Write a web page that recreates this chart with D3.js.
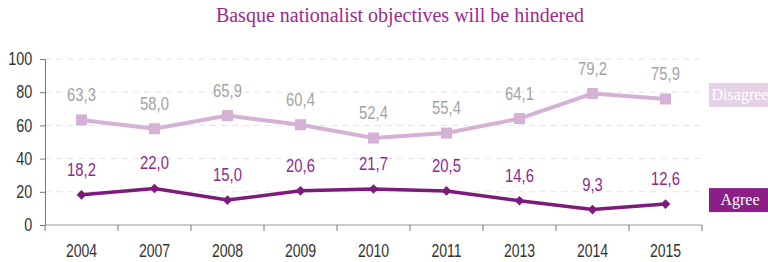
<!DOCTYPE html>
<html>
<head>
<meta charset="utf-8">
<script src="https://cdn.jsdelivr.net/npm/d3@7"></script>
<style>
  body { margin: 0; background: #fff; }
  svg { display: block; }
</style>
</head>
<body>
<div id="chart"></div>
<script>
// data
var years = ["2004", "2007", "2008", "2009", "2010", "2011", "2013", "2014", "2015"];
var disagree = [63.3, 58.0, 65.9, 60.4, 52.4, 55.4, 64.1, 79.2, 75.9];
var agree = [18.2, 22.0, 15.0, 20.6, 21.7, 20.5, 14.6, 9.3, 12.6];
var yTicks = [0, 20, 40, 60, 80, 100];

var width = 768, height = 262;
var margin = {top: 59, right: 66, bottom: 37, left: 45};

var svg = d3.select("#chart")
  .append("svg")
    .attr("width", width)
    .attr("height", height);

var x = d3.scaleBand()
  .domain(years)
  .range([margin.left, width - margin.right]);

var y = d3.scaleLinear()
  .domain([0, 100])
  .range([height - margin.bottom, margin.top]);

// the original uses a condensed face, squeeze a normal one horizontally
var numFont = "'Liberation Sans', Arial, sans-serif";
var serifFont = "'Liberation Serif', 'DejaVu Serif', serif";
var squeeze = 0.78;

function narrowText(sel, px, py, size, fill) {
  sel.attr("transform", function(d, i) {
      return "translate(" + px(d, i) + "," + py(d, i) + ") scale(" + squeeze + ",1)";
    })
    .attr("text-anchor", "middle")
    .attr("fill", fill)
    .style("font-family", numFont)
    .style("font-size", size + "px");
}

// title
svg.append("text")
  .attr("x", 400)
  .attr("y", 22)
  .attr("text-anchor", "middle")
  .attr("fill", "#9b2a8f")
  .style("font-family", serifFont)
  .style("font-size", "20px")
  .text("Basque nationalist objectives will be hindered");

// gridlines
svg.append("g")
  .selectAll("line")
  .data(yTicks.slice(1))
  .enter()
  .append("line")
    .attr("x1", margin.left)
    .attr("x2", width - margin.right)
    .attr("y1", d => y(d))
    .attr("y2", d => y(d))
    .attr("stroke", "#e4e4e4")
    .attr("stroke-dasharray", "6,5");

// y axis
var yAxis = svg.append("g")
  .attr("transform", "translate(" + margin.left + ",0)")
  .call(d3.axisLeft(y).tickValues(yTicks).tickSize(5).tickPadding(11));
yAxis.select(".domain").attr("stroke", "#777");
yAxis.selectAll(".tick line").attr("stroke", "#777");
yAxis.selectAll("text")
  .attr("transform", "scale(0.8,1)")
  .attr("fill", "#333")
  .style("font-family", numFont)
  .style("font-size", "18px");

// x axis, ticks on band edges
var xAxisG = svg.append("g")
  .attr("transform", "translate(0," + y(0) + ")");
xAxisG.append("line")
  .attr("x1", margin.left)
  .attr("x2", width - margin.right)
  .attr("stroke", "#999");
xAxisG.selectAll(".edge")
  .data(years.concat(["end"]))
  .enter()
  .append("line")
    .attr("x1", (d, i) => i < years.length ? x(d) : x(years[years.length - 1]) + x.bandwidth())
    .attr("x2", (d, i) => i < years.length ? x(d) : x(years[years.length - 1]) + x.bandwidth())
    .attr("y1", 0)
    .attr("y2", 6)
    .attr("stroke", "#777");
xAxisG.selectAll(".yr")
  .data(years)
  .enter()
  .append("text")
    .call(narrowText, d => x(d) + x.bandwidth() / 2, d => 32, 18, "#333")
    .text(d => d);

var cx = d => x(d) + x.bandwidth() / 2;
var line = d3.line()
  .x((d, i) => cx(years[i]))
  .y(d => y(d));
var fmt = d => d.toFixed(1).replace(".", ",");

// disagree series
svg.append("path")
  .datum(disagree)
  .attr("d", line)
  .attr("fill", "none")
  .attr("stroke", "#d6b1d6")
  .attr("stroke-width", 4);

svg.selectAll(".sq")
  .data(disagree)
  .enter()
  .append("rect")
    .attr("x", (d, i) => cx(years[i]) - 5.5)
    .attr("y", d => y(d) - 5.5)
    .attr("width", 11)
    .attr("height", 11)
    .attr("fill", "#d6b1d6");

svg.selectAll(".dlab")
  .data(disagree)
  .enter()
  .append("text")
    .call(narrowText, (d, i) => cx(years[i]), d => y(d) - 19, 19, "#a3a3a3")
    .text(fmt);

// agree series
svg.append("path")
  .datum(agree)
  .attr("d", line)
  .attr("fill", "none")
  .attr("stroke", "#7d1a7c")
  .attr("stroke-width", 3.5);

svg.selectAll(".dia")
  .data(agree)
  .enter()
  .append("path")
    .attr("d", d3.symbol().type(d3.symbolDiamond2).size(60))
    .attr("transform", (d, i) => "translate(" + cx(years[i]) + "," + y(d) + ")")
    .attr("fill", "#7d1a7c");

svg.selectAll(".alab")
  .data(agree)
  .enter()
  .append("text")
    .call(narrowText, (d, i) => cx(years[i]), d => y(d) - 19, 19, "#8e2a8c")
    .text(fmt);

// legend boxes on the right
var legend = [
  {name: "Disagree", v: disagree[disagree.length - 1], fill: "#e6d2e6"},
  {name: "Agree", v: agree[agree.length - 1], fill: "#8c1f87"}
];
var lg = svg.selectAll(".lg")
  .data(legend)
  .enter()
  .append("g")
    .attr("transform", d => "translate(709," + (y(d.v) - 16) + ")");
lg.append("rect")
  .attr("width", 64)
  .attr("height", 24)
  .attr("fill", d => d.fill);
lg.append("text")
  .attr("x", 31)
  .attr("y", 17)
  .attr("text-anchor", "middle")
  .attr("fill", "#fff")
  .style("font-family", serifFont)
  .style("font-size", "16px")
  .text(d => d.name);
</script>
</body>
</html>
